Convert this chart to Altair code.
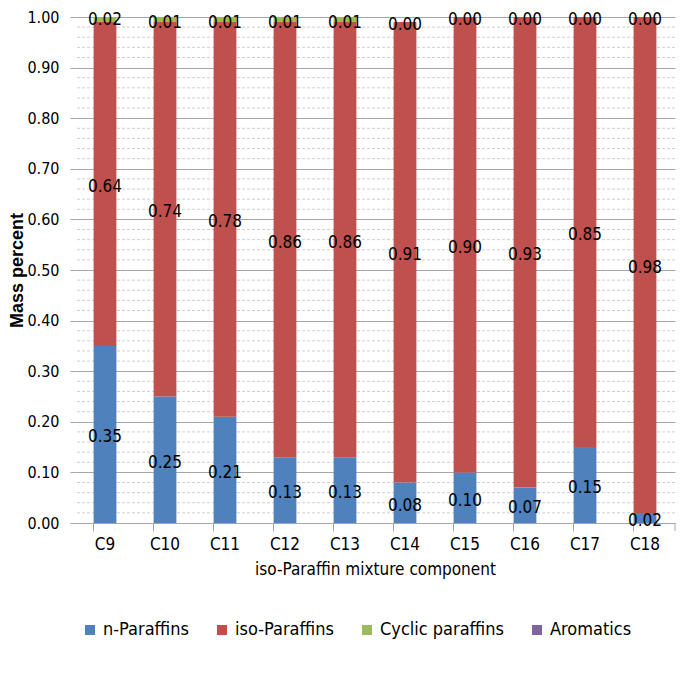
import altair as alt
import pandas as pd

components = ["C9", "C10", "C11", "C12", "C13", "C14", "C15", "C16", "C17", "C18"]
series_names = ["n-Paraffins", "iso-Paraffins", "Cyclic paraffins", "Aromatics"]
n_paraffins = [0.35, 0.25, 0.21, 0.13, 0.13, 0.08, 0.10, 0.07, 0.15, 0.02]
iso_paraffins = [0.64, 0.74, 0.78, 0.86, 0.86, 0.91, 0.90, 0.93, 0.85, 0.98]
cyclic_paraffins = [0.02, 0.01, 0.01, 0.01, 0.01, 0.00, 0.00, 0.00, 0.00, 0.00]
aromatics = [0.00, 0.00, 0.00, 0.00, 0.00, 0.00, 0.00, 0.00, 0.00, 0.00]
colors = ["#4F81BD", "#C0504D", "#9BBB59", "#8064A2"]
major_ticks = [0.0, 0.1, 0.2, 0.3, 0.4, 0.5, 0.6, 0.7, 0.8, 0.9, 1.0]
minor_ticks = [0.02, 0.04, 0.06, 0.08, 0.12, 0.14, 0.16, 0.18, 0.22, 0.24, 0.26, 0.28,
               0.32, 0.34, 0.36, 0.38, 0.42, 0.44, 0.46, 0.48, 0.52, 0.54, 0.56, 0.58,
               0.62, 0.64, 0.66, 0.68, 0.72, 0.74, 0.76, 0.78, 0.82, 0.84, 0.86, 0.88,
               0.92, 0.94, 0.96, 0.98]

rows = []
for s_i, (name, vals) in enumerate(zip(series_names, [n_paraffins, iso_paraffins, cyclic_paraffins, aromatics])):
    for comp, v in zip(components, vals):
        rows.append({"comp": comp, "series": name, "value": v, "ord": s_i})
df = pd.DataFrame(rows)
minor_df = pd.DataFrame({"v": minor_ticks})

FONT = "DejaVu Sans Condensed, Roboto, sans-serif"

yscale = alt.Scale(domain=[0, 1], nice=False)
xenc = alt.X("comp:N", sort=components,
             scale=alt.Scale(paddingInner=0.62, paddingOuter=0.31),
             axis=alt.Axis(title="iso-Paraffin mixture component", labelAngle=0,
                           bandPosition=0, tickSize=8, tickColor="#A6A6A6",
                           domainColor="#A6A6A6", labelPadding=5, titlePadding=9,
                           labelFontSize=17, titleFontSize=17, labelFont=FONT,
                           titleFont=FONT, titleFontWeight="normal",
                           labelColor="black", titleColor="black", grid=False))

minor = alt.Chart(minor_df).mark_rule(color="#CFCFCF", strokeDash=[3, 2], strokeWidth=1).encode(
    y=alt.Y("v:Q", scale=yscale)
)

bars = alt.Chart(df).mark_bar(clip=True).encode(
    x=xenc,
    y=alt.Y("value:Q", stack="zero", scale=yscale,
            axis=alt.Axis(title="Mass percent", values=major_ticks, format=".2f",
                          grid=True, gridColor="#A6A6A6", gridWidth=1,
                          domain=False, tickSize=5, tickColor="#A6A6A6",
                          labelPadding=11, labelFontSize=16, labelFont=FONT,
                          labelColor="black", titleFont="Liberation Sans",
                          titleFontSize=18, titleFontWeight="bold", titleColor="black",
                          titleX=-58, titleY=253, titleAngle=270,
                          titleAlign="center", titleBaseline="middle")),
    color=alt.Color("series:N", sort=series_names,
                    scale=alt.Scale(domain=series_names, range=colors),
                    legend=alt.Legend(title=None, orient="none", direction="horizontal",
                                      legendX=6, legendY=604, symbolType="square",
                                      symbolSize=100, symbolStrokeWidth=0,
                                      labelFont=FONT, labelFontSize=18,
                                      labelColor="black", columnPadding=24,
                                      labelOffset=4, symbolOpacity=1)),
    order=alt.Order("ord:Q", sort="ascending"),
)

labels = alt.Chart(df).transform_stack(
    stack="value", groupby=["comp"], as_=["y0", "y1"],
    sort=[alt.SortField("ord", order="ascending")]
).transform_filter(
    alt.datum.series != "Aromatics"
).transform_calculate(
    mid="(datum.y0 + datum.y1) / 2"
).mark_text(font=FONT, fontSize=17, color="black", dy=3, baseline="middle").encode(
    x=alt.X("comp:N", sort=components),
    y=alt.Y("mid:Q", scale=yscale),
    text=alt.Text("value:Q", format=".2f"),
)

end_tick = alt.Chart(pd.DataFrame({"a": [0]})).mark_rule(color="#A6A6A6").encode(
    x=alt.value(600), y=alt.value(506), y2=alt.value(514)
)

chart = alt.layer(minor, bars, labels, end_tick).properties(
    width=600, height=506,
    autosize=alt.AutoSizeParams(type="none"),
    padding={"left": 67, "top": 9, "right": 2, "bottom": 150},
).configure_view(stroke=None).configure_axis(labelFontWeight="normal")

chart.save("out.html", embed_options={"renderer": "svg", "actions": False})
